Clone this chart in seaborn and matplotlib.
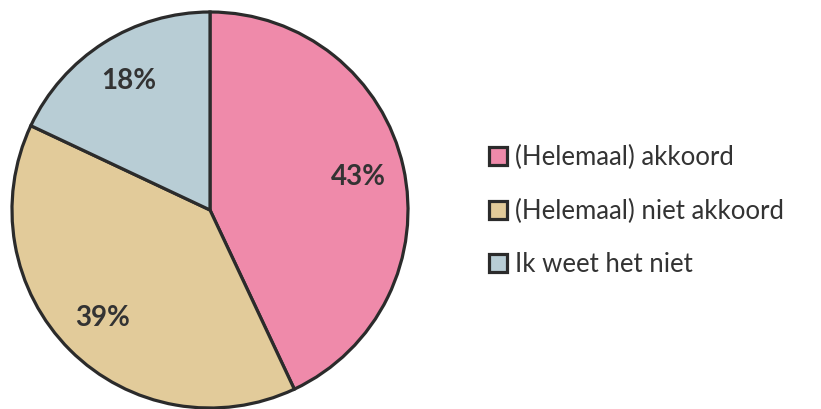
import matplotlib
matplotlib.use("Agg")
import matplotlib.pyplot as plt
from matplotlib.patches import Patch
import seaborn as sns

# Data
labels = ["(Helemaal) akkoord", "(Helemaal) niet akkoord", "Ik weet het niet"]
values = [43, 39, 18]
colors = ["#EF8AAA", "#E2CB9A", "#B8CDD5"]

sns.set_theme(style="white")
plt.rcParams['font.family'] = ['Lato', 'DejaVu Sans']
edge = "#2b2b2b"
text_color = "#333333"

fig = plt.figure(figsize=(8.21, 4.09), dpi=100)
ax = fig.add_axes([10 / 821, -1 / 409, 400 / 821, 400 / 409])

wedges, texts, autotexts = ax.pie(
    values, colors=sns.color_palette(colors), startangle=90, counterclock=False,
    radius=0.99, autopct="%d%%", pctdistance=0.77,
    wedgeprops=dict(edgecolor=edge, linewidth=2.3),
    textprops=dict(fontsize=20, fontweight="bold", color=text_color),
)
ax.set_xlim(-1, 1)
ax.set_ylim(-1, 1)
ax.set_aspect("equal")
ax.axis("off")

handles = [Patch(facecolor=c, edgecolor=edge, linewidth=2.3) for c in colors]
leg = fig.legend(handles, labels, loc="center left",
                 bbox_to_anchor=(466 / 821, 1 - 211 / 409),
                 frameon=False, fontsize=18.5, handlelength=0.7, handleheight=0.7,
                 handletextpad=0.3, labelspacing=1.1)
for t in leg.get_texts():
    t.set_color(text_color)

fig.savefig("out.png", dpi=100)
